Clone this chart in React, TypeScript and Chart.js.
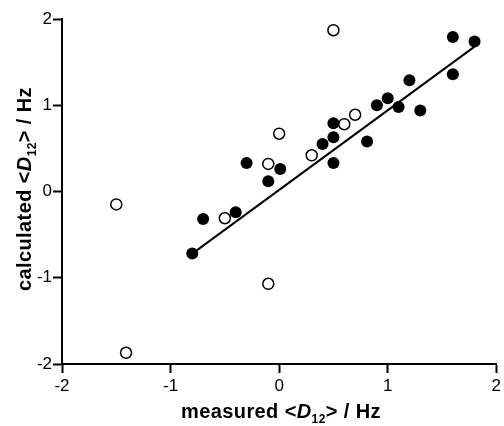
import React, { useEffect, useRef } from "react";
import { Chart, registerables } from "chart.js";

Chart.register(...registerables);

// Filled circles
const filledX = [-0.8, -0.7, -0.4, -0.3, -0.1, 0.01, 0.4, 0.5, 0.5, 0.5, 0.81, 0.9, 1.0, 1.1, 1.2, 1.3, 1.6, 1.6, 1.8];
const filledY = [-0.72, -0.32, -0.24, 0.33, 0.12, 0.26, 0.55, 0.79, 0.63, 0.33, 0.58, 1.0, 1.08, 0.98, 1.29, 0.94, 1.79, 1.36, 1.74];

// Open circles
const openX = [-1.5, -1.41, -0.5, -0.1, -0.1, 0.0, 0.3, 0.5, 0.6, 0.7];
const openY = [-0.15, -1.87, -0.31, 0.32, -1.07, 0.67, 0.42, 1.87, 0.78, 0.89];

// Regression line end points
const fitX = [-0.8, 1.8];
const fitY = [-0.72, 1.68];

const tickValues = [-2, -1, 0, 1, 2];

const FONT = "'Liberation Sans', Arial, sans-serif";

type Seg = { t: string; font: string; dy?: number };

function drawSegs(ctx: CanvasRenderingContext2D, segs: Seg[], cx: number, baseline: number) {
  (ctx as any).letterSpacing = "0.4px";
  let total = 0;
  for (const s of segs) {
    ctx.font = s.font;
    total += ctx.measureText(s.t).width;
  }
  let x = cx - total / 2;
  ctx.textBaseline = "alphabetic";
  ctx.textAlign = "left";
  ctx.fillStyle = "#000";
  for (const s of segs) {
    ctx.font = s.font;
    ctx.fillText(s.t, x, baseline + (s.dy || 0));
    x += ctx.measureText(s.t).width;
  }
}

function titleSegs(word: string): Seg[] {
  return [
    { t: word + " <", font: `bold 20px ${FONT}` },
    { t: "D", font: `italic bold 20px ${FONT}` },
    { t: "12", font: `bold 12px ${FONT}`, dy: 5 },
    { t: "> / Hz", font: `bold 20px ${FONT}` },
  ];
}

const titlePlugin = {
  id: "axisTitles",
  afterDraw(chart: any) {
    const ctx = chart.ctx as CanvasRenderingContext2D;
    const area = chart.chartArea;
    ctx.save();
    drawSegs(ctx, titleSegs("measured"), 281, 418);
    ctx.restore();
    ctx.save();
    ctx.translate(31, 189);
    ctx.rotate(-Math.PI / 2);
    drawSegs(ctx, titleSegs("calculated"), 0, 0);
    ctx.restore();
  },
};

export default function App() {
  const ref = useRef<HTMLCanvasElement | null>(null);

  useEffect(() => {
    if (!ref.current) return;
    const chart = new Chart(ref.current, {
      type: "scatter",
      data: {
        datasets: [
          {
            label: "filled",
            data: filledX.map((x, i) => ({ x, y: filledY[i] })),
            backgroundColor: "#000",
            borderColor: "#000",
            borderWidth: 0,
            pointRadius: 6,
            order: 1,
          },
          {
            label: "open",
            data: openX.map((x, i) => ({ x, y: openY[i] })),
            backgroundColor: "#fff",
            borderColor: "#000",
            borderWidth: 1.5,
            pointRadius: 5.5,
            order: 2,
          },
          {
            type: "line",
            label: "fit",
            data: fitX.map((x, i) => ({ x, y: fitY[i] })),
            borderColor: "#000",
            borderWidth: 2,
            pointRadius: 0,
            fill: false,
            order: 3,
          } as any,
        ],
      },
      options: {
        responsive: false,
        animation: false,
        layout: { padding: { left: 0, top: 19, right: 6, bottom: 0 } },
        plugins: { legend: { display: false }, tooltip: { enabled: false } },
        scales: {
          x: {
            type: "linear",
            min: -2,
            max: 2,
            afterBuildTicks: (scale: any) => {
              scale.ticks = tickValues.map((v) => ({ value: v }));
            },
            afterFit: (scale: any) => {
              scale.height = 62;
            },
            grid: {
              drawOnChartArea: false,
              drawTicks: true,
              tickLength: 9,
              tickWidth: 2,
              tickColor: "#000",
            },
            border: { display: true, color: "#000", width: 2 },
            ticks: {
              color: "#000",
              font: { family: FONT, size: 17 },
              padding: 3,
              maxRotation: 0,
              callback: (v: any) => String(v),
            },
          },
          y: {
            type: "linear",
            min: -2,
            max: 2,
            afterBuildTicks: (scale: any) => {
              scale.ticks = tickValues.map((v) => ({ value: v }));
            },
            afterFit: (scale: any) => {
              scale.width = 62;
            },
            grid: {
              drawOnChartArea: false,
              drawTicks: true,
              tickLength: 9,
              tickWidth: 2,
              tickColor: "#000",
            },
            border: { display: true, color: "#000", width: 2 },
            ticks: {
              color: "#000",
              font: { family: FONT, size: 17 },
              padding: 1,
              callback: (v: any) => String(v),
            },
          },
        },
      },
      plugins: [titlePlugin],
    } as any);
    return () => chart.destroy();
  }, []);

  return (
    <div style={{ position: "fixed", left: 0, top: 0, width: 504, height: 426, background: "#fff" }}>
      <canvas ref={ref} width={504} height={426} style={{ width: 504, height: 426, display: "block" }} />
    </div>
  );
}
